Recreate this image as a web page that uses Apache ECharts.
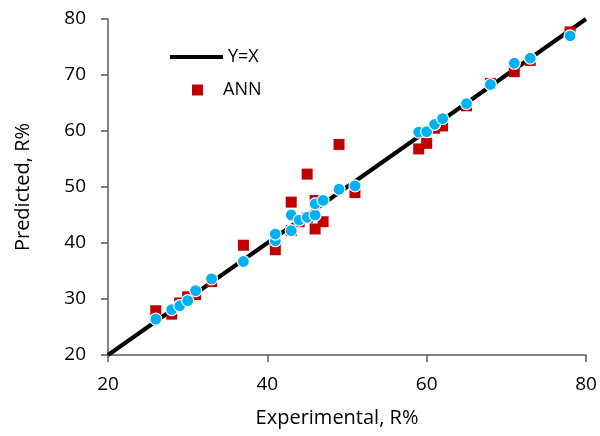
<!DOCTYPE html>
<html>
<head>
<meta charset="utf-8">
<script src="https://cdn.jsdelivr.net/npm/echarts@6/dist/echarts.min.js"></script>
<style>
  html, body { margin: 0; padding: 0; background: #fff; }
  #chart { width: 600px; height: 436px; }
</style>
</head>
<body>
<div id="chart"></div>
<script>
// reference line Y=X
var lineX = [20, 80];
var lineY = [20, 80];

// ANN predictions (red squares)
var annX = [26, 28, 29, 30, 31, 33, 37, 41, 41, 43, 43, 44, 45, 45, 46, 46, 47, 49, 51, 59, 60, 61, 62, 65, 68, 71, 73, 78];
var annY = [27.9, 27.3, 29.3, 30.4, 30.8, 33.1, 39.6, 38.8, 40.6, 47.3, 42.2, 43.8, 52.3, 44.5, 42.5, 47.6, 43.8, 57.6, 49.0, 56.8, 57.8, 60.5, 60.9, 64.5, 68.5, 70.6, 72.6, 77.7];

// second model (blue circles, no legend entry)
var blueX = [26, 28, 29, 30, 31, 33, 37, 41, 41, 43, 43, 44, 45, 46, 46, 47, 49, 51, 59, 60, 61, 62, 65, 68, 71, 73, 78];
var blueY = [26.4, 28.1, 28.8, 29.7, 31.5, 33.6, 36.7, 40.4, 41.6, 45.0, 42.2, 44.1, 44.6, 45.0, 47.0, 47.6, 49.6, 50.2, 59.8, 59.9, 61.2, 62.2, 64.9, 68.3, 72.1, 73.0, 77.0];

var axisTicks = [20, 40, 60, 80];

function zip(xs, ys) {
  var out = [];
  for (var i = 0; i < xs.length; i++) out.push([xs[i], ys[i]]);
  return out;
}

var font = 'Open Sans';
var fs = 19;
var axisColor = '#595959';

var chart = echarts.init(document.getElementById('chart'));
var option = {
  animation: false,
  textStyle: { fontFamily: font, color: '#000' },
  grid: { left: 108, right: 14, top: 19, bottom: 81 },
  legend: [
    {
      data: [{ name: 'Y=X', icon: 'rect' }],
      left: 165, top: 43,
      itemWidth: 53, itemHeight: 4,
      textStyle: { fontFamily: font, fontSize: fs - 1, color: '#000' }
    },
    {
      data: [{ name: 'ANN', icon: 'rect' }],
      left: 187, top: 76,
      itemWidth: 11, itemHeight: 11,
      textStyle: { fontFamily: font, fontSize: fs - 1, color: '#000', padding: [0, 0, 0, 15] }
    }
  ],
  xAxis: {
    type: 'value', min: 20, max: 80, interval: 20,
    name: 'Experimental, R%', nameLocation: 'middle', nameGap: 53,
    nameTextStyle: { fontFamily: font, fontSize: 20, color: '#000', padding: [0, 20, 0, 0] },
    axisLine: { lineStyle: { color: axisColor, width: 1.5 } },
    axisTick: { show: true, length: 7, lineStyle: { color: axisColor, width: 1.5 } },
    axisLabel: { fontFamily: font, fontSize: fs, color: '#000', margin: 20,
      formatter: function (v) { return axisTicks.indexOf(v) >= 0 ? String(v) : ''; } },
    splitLine: { show: false }
  },
  yAxis: {
    type: 'value', min: 20, max: 80, interval: 10,
    name: 'Predicted, R%', nameLocation: 'middle', nameGap: 75,
    nameTextStyle: { fontFamily: font, fontSize: 20, color: '#000' },
    axisLine: { show: true, lineStyle: { color: axisColor, width: 1.5 } },
    axisTick: { show: true, length: 7, lineStyle: { color: axisColor, width: 1.5 } },
    axisLabel: { fontFamily: font, fontSize: fs, color: '#000', margin: 22 },
    splitLine: { show: false }
  },
  series: [
    {
      name: 'Y=X', type: 'line', data: zip(lineX, lineY),
      symbol: 'none', z: 2,
      lineStyle: { color: '#000', width: 4 },
      itemStyle: { color: '#000' }
    },
    {
      name: 'ANN', type: 'scatter', data: zip(annX, annY),
      symbol: 'rect', symbolSize: 11, z: 3,
      itemStyle: { color: '#C00000', opacity: 1 }
    },
    {
      name: 'Model', type: 'scatter', data: zip(blueX, blueY),
      symbol: 'circle', symbolSize: 12, z: 4,
      itemStyle: { color: '#00B0F0', borderColor: '#fff', borderWidth: 1.2, opacity: 1 }
    }
  ]
};
chart.setOption(option);
</script>
</body>
</html>
